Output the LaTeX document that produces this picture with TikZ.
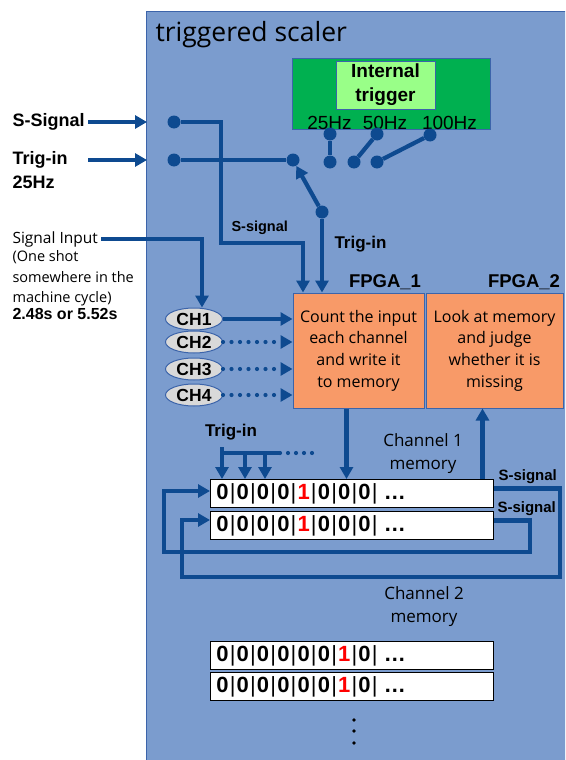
\documentclass[tikz,border=0pt]{standalone}
\usepackage{fontspec}
\setmainfont{Liberation Sans}
\newfontfamily\meiryo{Open Sans}
\usepackage{tikz}
\usetikzlibrary{positioning}
\usetikzlibrary{shapes.geometric}
\usetikzlibrary{arrows.meta}

\definecolor{boxblue}{RGB}{123,156,206}
\definecolor{edgeblue}{RGB}{60,100,170}
\definecolor{wireblue}{RGB}{14,74,144}
\definecolor{fpgaorange}{RGB}{248,154,104}
\definecolor{trigreen}{RGB}{0,176,80}
\definecolor{lightgreen}{RGB}{153,255,136}
\definecolor{chgray}{RGB}{217,217,217}

\newcommand{\bitcell}[1]{\makebox[12pt][c]{#1}\makebox[8.3pt][c]{\mdseries|}}
\newcommand{\hit}{\textcolor{red}{1}}

\begin{document}
\begin{tikzpicture}
[x=1pt,y=-1pt,
 wire/.style={draw=wireblue,line width=4.2pt},
 sig/.style={wire,-{Triangle[length=12pt,width=13pt]}},
 dotwire/.style={wire,dash pattern=on 0pt off 8pt,line cap=round},
 dotsig/.style={sig,dash pattern=on 0pt off 8.5pt,line cap=round},
 junction/.style={shape=circle,fill=wireblue,inner sep=0pt,minimum size=13pt},
 fpga/.style={shape=rectangle,draw=edgeblue,fill=fpgaorange,line width=1pt,
   minimum height=115pt,align=center,font=\meiryo\fontsize{16}{21.7}\selectfont},
 chan/.style={shape=ellipse,draw=edgeblue,fill=chgray,line width=1pt,
   minimum width=57pt,minimum height=22pt,inner sep=0pt,
   font=\bfseries\fontsize{17.5}{17.5}\selectfont},
 memrow/.style={shape=rectangle,draw=black,fill=white,line width=1pt,
   anchor=north west,minimum width=283pt,minimum height=28pt,text width=271pt,
   align=left,inner xsep=6pt,inner ysep=0pt,font=\bfseries\fontsize{22}{22}\selectfont},
 tag/.style={font=\bfseries\fontsize{18}{22}\selectfont},
 small/.style={font=\bfseries\fontsize{14.5}{16}\selectfont},
 hz/.style={anchor=base,font=\fontsize{19}{19}\selectfont},
 note/.style={align=center,font=\meiryo\fontsize{17}{23}\selectfont}]

\clip (0,0) rectangle (565,760);
\filldraw[fill=boxblue,draw=edgeblue,line width=1pt] (146,12) rectangle (600,800);

\draw (152,42) node (title) [anchor=base west,font=\meiryo\fontsize{26.5}{26.5}\selectfont] {triggered scaler};

\draw (391,93.5) node (trigbox) [shape=rectangle,draw=edgeblue,fill=trigreen,
	minimum width=198pt,minimum height=71pt] {};
\draw (385.5,85) node (inttrig) [shape=rectangle,draw=edgeblue,fill=lightgreen,
	minimum width=99pt,minimum height=48pt,align=center,
	font=\bfseries\fontsize{19}{24}\selectfont] {Internal\\trigger};
\draw (329.5,129) node (hz25) [hz] {25Hz};
\draw (385,129) node (hz50) [hz] {50Hz};
\draw (449.5,129) node (hz100) [hz] {100Hz};

\draw (330,134) node (hz25top) [junction] {};
\draw (330,162) node (hz25bot) [junction] {};
\draw (377,134) node (hz50top) [junction] {};
\draw (354,162) node (hz50bot) [junction] {};
\draw (430,135) node (hz100top) [junction] {};
\draw (377,162) node (hz100bot) [junction] {};
\draw [wire] (hz25top) -- (hz25bot);
\draw [wire] (hz50bot) -- (hz50top);
\draw [wire] (hz100bot) -- (hz100top);

\draw (9,122) node (sin) [tag,anchor=west] {S-Signal};
\draw (9,160) node (tin) [tag,anchor=west] {Trig-in};
\node (tinrate) [tag,below=0pt of tin.south west,anchor=north west] {25Hz};
\coordinate (sedge) at (147,122);
\coordinate (tedge) at (147,160);
\draw [sig] (sin) -- (sedge);
\draw [sig] (tin.east -| sin.east) -- (tedge);

\draw (174,122) node (sdot) [junction] {};
\draw (174,160) node (tdot) [junction] {};
\draw (293,160) node (swtop) [junction] {};
\draw (322,212) node (swarm) [junction] {};

\draw (9,239) node (sigin) [anchor=west,font=\meiryo\fontsize{15.5}{18}\selectfont] {Signal Input};
\node (sigdesc) [below=-3pt of sigin.south west,anchor=north west,align=left,
	font=\meiryo\fontsize{14.5}{20.5}\selectfont] {(One shot\\somewhere in the\\machine cycle)};
\node (sigtime) [below=-5pt of sigdesc.south west,anchor=north west,
	font=\bfseries\fontsize{16}{18}\selectfont] {2.48s or 5.52s};

\draw (358.5,350.5) node (fpga1) [fpga,minimum width=131pt]
	{Count the input\\each channel\\and write it\\to memory};
\node (fpga2) [fpga,minimum width=137pt,right=1pt of fpga1]
	{Look at memory\\and judge\\whether it is\\missing};
\node (fpga1tag) [tag,font=\bfseries\fontsize{18.5}{20}\selectfont,
	above left=-1pt and 0pt of fpga1.north east] {FPGA\_1};
\node (fpga2tag) [tag,font=\bfseries\fontsize{18.5}{20}\selectfont,
	above left=-1pt and 0pt of fpga2.north east] {FPGA\_2};

\draw (194,319) node (ch1) [chan] {CH1};
\draw (194,342) node (ch2) [chan] {CH2};
\draw (194,369) node (ch3) [chan] {CH3};
\draw (194,395) node (ch4) [chan] {CH4};

\draw [sig] (sigin.east) -| ([xshift=8pt]ch1.north);
\draw [sig] (ch1) -- (ch1 -| fpga1.west);
\draw [dotsig] (ch2) -- (ch2 -| fpga1.west);
\draw [dotsig] (ch3) -- (ch3 -| fpga1.west);
\draw [dotsig] (ch4) -- (ch4 -| fpga1.west);

\coordinate (sknee) at (221,243);
\coordinate (sturn) at (303,243);
\draw [sig] (sdot) -| (sknee) -- (sturn) -- (sturn |- fpga1.north);
\draw [wire] (tdot) -- (swtop);
\draw [sig] (swarm) -- (swtop);
\draw [sig] (swarm) -- (swarm |- fpga1.north);
\draw (228,228) node (stag) [small,anchor=west] {S-signal};
\draw (331,244) node (ttag) [tag,anchor=west,font=\bfseries\fontsize{17}{20}\selectfont] {Trig-in};

\draw (210,479) node (mem1) [memrow]
	{\bitcell0\bitcell0\bitcell0\bitcell0\bitcell\hit\bitcell0\bitcell0\bitcell0\hspace{5pt}…};
\draw (210,511) node (mem2) [memrow]
	{\bitcell0\bitcell0\bitcell0\bitcell0\bitcell\hit\bitcell0\bitcell0\bitcell0\hspace{5pt}…};
\draw (210,641) node (mem3) [memrow]
	{\bitcell0\bitcell0\bitcell0\bitcell0\bitcell0\bitcell0\bitcell\hit\bitcell0\hspace{5pt}…};
\draw (210,672) node (mem4) [memrow]
	{\bitcell0\bitcell0\bitcell0\bitcell0\bitcell0\bitcell0\bitcell\hit\bitcell0\hspace{5pt}…};

\draw (423,454) node (mem1tag) [note] {Channel 1\\memory};
\draw (424,607) node (mem3tag) [note] {Channel 2\\memory};

\draw [sig] ([xshift=-12pt]fpga1.south) -- ([xshift=-12pt]fpga1.south |- mem1.north);
\draw [sig] ([xshift=-12pt]fpga2.south |- mem1.north) -- ([xshift=-12pt]fpga2.south);

\draw (231,432) node (bustag) [tag,font=\bfseries\fontsize{17}{20}\selectfont] {Trig-in};
\coordinate (bus1) at (222,453);
\coordinate (bus2) at (245,453);
\coordinate (bus3) at (265,453);
\coordinate (busend) at (280,453);
\coordinate (dotend) at (312,453);
\draw [wire] (bus1) -- (busend);
\draw [dotwire] (busend) -- (dotend);
\draw [sig] ([yshift=6pt]bus1) -- (bus1 |- mem1.north);
\draw [sig] (bus2) -- (bus2 |- mem1.north);
\draw [sig] (bus3) -- (bus3 |- mem1.north);

\coordinate (outerc) at (560,577);
\coordinate (outerl) at (182,520);
\draw [sig] ([yshift=5pt]mem1.east) -| (outerc) -| (outerl) -- (outerl -| mem2.west);
\coordinate (innerc) at (530,552);
\coordinate (innerl) at (164,491);
\draw [sig] ([yshift=5pt]mem2.east) -| (innerc) -| (innerl) -- (innerl -| mem1.west);
\draw (495,477) node (s1tag) [small,anchor=west,font=\bfseries\fontsize{15}{16}\selectfont] {S-signal};
\draw (494,509) node (s2tag) [small,anchor=west,font=\bfseries\fontsize{15}{16}\selectfont] {S-signal};

\fill (354,720) circle (1.8);
\fill (354,731) circle (1.8);
\fill (354,743) circle (1.8);

\end{tikzpicture}
\end{document}
